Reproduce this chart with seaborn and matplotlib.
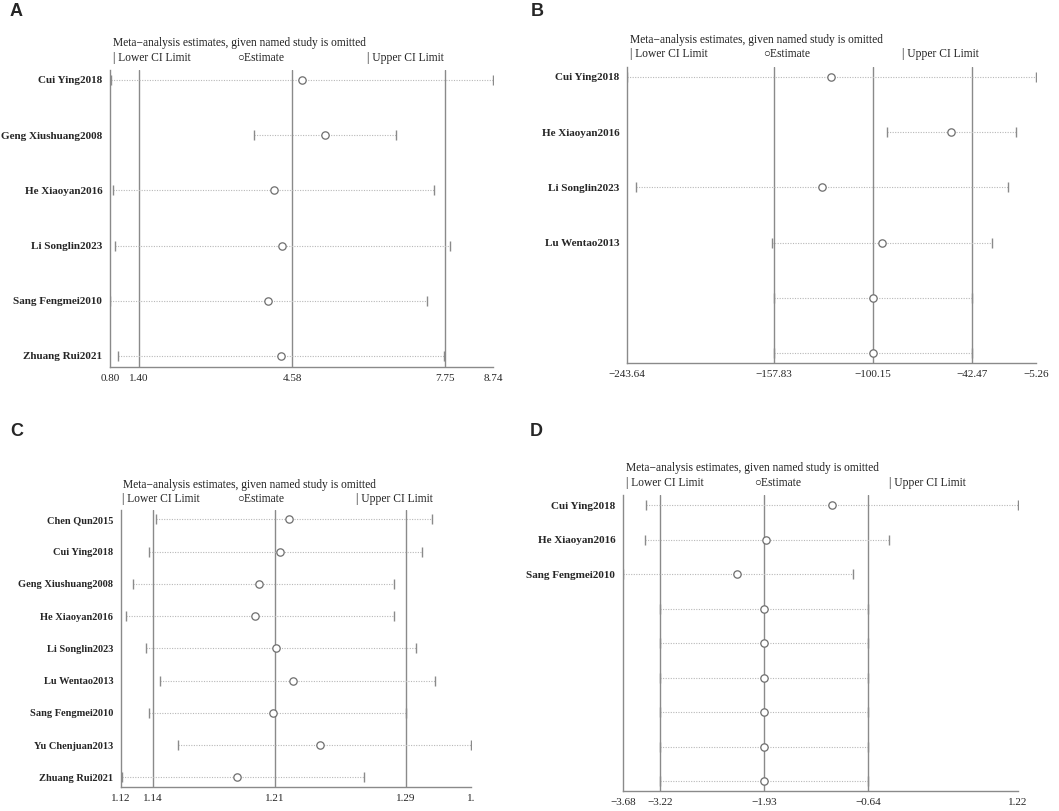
import matplotlib
matplotlib.use("Agg")
import matplotlib.pyplot as plt
import seaborn as sns
import pandas as pd

# panel A
a_names = ["Cui Ying2018", "Geng Xiushuang2008", "He Xiaoyan2016", "Li Songlin2023",
           "Sang Fengmei2010", "Zhuang Rui2021"]
a_lower = [0.82, 3.79, 0.87, 0.91, 0.80, 0.97]
a_est = [4.78, 5.25, 4.19, 4.37, 4.08, 4.35]
a_upper = [8.74, 6.73, 7.51, 7.84, 7.37, 7.73]
a_ticks = [0.80, 1.40, 4.58, 7.75, 8.74]
a_ticklabels = ["0.80", "1.40", "4.58", "7.75", "8.74"]

# panel B
b_names = ["Cui Ying2018", "He Xiaoyan2016", "Li Songlin2023", "Lu Wentao2013", "", ""]
b_lower = [-243.64, -92.29, -238.40, -158.94, -157.83, -157.83]
b_est = [-124.74, -54.80, -129.98, -95.21, -100.15, -100.15]
b_upper = [-5.26, -17.11, -21.77, -30.71, -42.47, -42.47]
b_ticks = [-243.64, -157.83, -100.15, -42.47, -5.26]
b_ticklabels = ["\u2212243.64", "\u2212157.83", "\u2212100.15", "\u221242.47", "\u22125.26"]

# panel C
c_names = ["Chen Qun2015", "Cui Ying2018", "Geng Xiushuang2008", "He Xiaoyan2016",
           "Li Songlin2023", "Lu Wentao2013", "Sang Fengmei2010", "Yu Chenjuan2013",
           "Zhuang Rui2021"]
c_lower = [1.1421, 1.1381, 1.1286, 1.1245, 1.1363, 1.1447, 1.1381, 1.1555, 1.1218]
c_est = [1.2211, 1.2161, 1.2034, 1.2013, 1.2135, 1.2234, 1.2120, 1.2397, 1.1906]
c_upper = [1.3062, 1.3000, 1.2834, 1.2838, 1.2967, 1.3080, 1.2909, 1.3293, 1.2656]
c_ticks = [1.1215, 1.1403, 1.2128, 1.2905, 1.3293]
c_ticklabels = ["1.12", "1.14", "1.21", "1.29", "1."]

# panel D
d_names = ["Cui Ying2018", "He Xiaoyan2016", "Sang Fengmei2010", "", "", "", "", "", ""]
d_lower = [-3.40, -3.41, -3.68, -3.22, -3.22, -3.22, -3.22, -3.22, -3.22]
d_est = [-1.09, -1.90, -2.26, -1.93, -1.93, -1.93, -1.93, -1.93, -1.93]
d_upper = [1.22, -0.38, -0.83, -0.64, -0.64, -0.64, -0.64, -0.64, -0.64]
d_ticks = [-3.68, -3.22, -1.93, -0.64, 1.22]
d_ticklabels = ["\u22123.68", "\u22123.22", "\u22121.93", "\u22120.64", "1.22"]

sns.set_style("white")
plt.rcParams["font.family"] = ["Liberation Serif", "DejaVu Serif"]

W, H = 1059, 811
fig = plt.figure(figsize=(W / 100, H / 100), dpi=100)

TITLE = "Meta\u2212analysis estimates, given named study is omitted"


def px_axes(x0, y0, x1, y1):
    return fig.add_axes([x0 / W, 1 - y1 / H, (x1 - x0) / W, (y1 - y0) / H])


def draw_panel(box, names, lower, est, upper, ticks, ticklabels, ylim, label_size,
               title_xy, legend_x, legend_y, letter_xy, letter):
    ax = px_axes(*box)
    df = pd.DataFrame({"row": range(len(names)), "lower": lower, "est": est, "upper": upper})
    # reference lines at the overall estimate and its CI
    for t in ticks[1:4]:
        ax.axvline(t, color="#8a8a8a", lw=1.0, zorder=1)
    ax.hlines(df["row"], df["lower"], df["upper"], colors="#b8b8b8", lw=0.8,
              linestyles=(0, (1, 1.3)), zorder=2)
    sns.scatterplot(data=df, x="lower", y="row", marker="|", s=60, color="#8a8a8a",
                    linewidth=1.0, ax=ax, zorder=3, legend=False)
    sns.scatterplot(data=df, x="upper", y="row", marker="|", s=60, color="#8a8a8a",
                    linewidth=1.0, ax=ax, zorder=3, legend=False)
    sns.scatterplot(data=df, x="est", y="row", marker="o", s=28, facecolor="white",
                    edgecolor="#6e6e6e", linewidth=0.9, ax=ax, zorder=4, legend=False)
    ax.set_xlim(ticks[0], ticks[-1])
    ax.set_ylim(*ylim)
    ax.set_yticks(range(len(names)))
    ax.set_yticklabels(names, fontsize=label_size, fontweight="bold")
    ax.set_xticks(ticks)
    ax.set_xticklabels(ticklabels, fontsize=8)
    ax.tick_params(axis="y", length=0, pad=5.5)
    ax.tick_params(axis="x", length=3, width=0.8, color="#8a8a8a", pad=2, direction="out")
    ax.set_xlabel("")
    ax.set_ylabel("")
    for s in ["top", "right"]:
        ax.spines[s].set_visible(False)
    for s in ["left", "bottom"]:
        ax.spines[s].set_color("#8a8a8a")
        ax.spines[s].set_linewidth(1.0)
    ax.patch.set_alpha(0)

    fig.text(title_xy[0] / W, 1 - title_xy[1] / H, TITLE, fontsize=8.3, va="center",
             ha="left", color="#222222")
    legend_texts = ["| Lower CI Limit", "\u25cbEstimate", "| Upper CI Limit"]
    for lx, lt in zip(legend_x, legend_texts):
        fig.text(lx / W, 1 - legend_y / H, lt, fontsize=8.3, va="center", ha="left",
                 color="#222222", family=["Liberation Serif", "DejaVu Sans"])
    fig.text(letter_xy[0] / W, 1 - letter_xy[1] / H, letter, fontsize=13, fontweight="bold",
             family="Liberation Sans", va="center", ha="left")
    return ax


draw_panel((110, 70, 493, 367), a_names, a_lower, a_est, a_upper, a_ticks, a_ticklabels,
           (5.2, -0.18), 8, (113, 43), (113, 237, 367), 58, (10, 11), "A")
draw_panel((627, 67, 1036, 363), b_names, b_lower, b_est, b_upper, b_ticks, b_ticklabels,
           (5.18, -0.18), 8, (630, 40), (630, 763, 902), 54, (531, 11), "B")
draw_panel((121, 510, 471, 787), c_names, c_lower, c_est, c_upper, c_ticks, c_ticklabels,
           (8.3, -0.29), 7.5, (123, 485), (122, 237, 356), 499, (10, 432), "C")
draw_panel((623, 495, 1018, 791), d_names, d_lower, d_est, d_upper, d_ticks, d_ticklabels,
           (8.28, -0.3), 8, (626, 468), (626, 754, 889), 483, (530, 432), "D")

fig.savefig("out.png", dpi=100)
